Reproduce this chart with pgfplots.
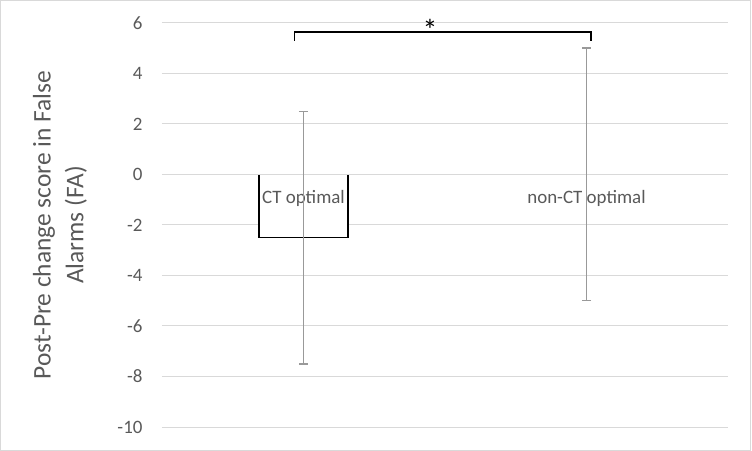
\documentclass[border=0pt]{standalone}
\usepackage{pgfplots}
\pgfplotsset{compat=1.18}
\usepackage{fontspec}
\setmainfont{Carlito}
\definecolor{txt}{HTML}{595959}
\definecolor{grd}{HTML}{D9D9D9}
\definecolor{err}{HTML}{999999}
\begin{document}
\begin{tikzpicture}
\begin{axis}[
  name=ax,
  scale only axis,
  width=566bp, height=404bp,
  xmin=-0.5, xmax=1.5,
  ymin=-10, ymax=6,
  xtick=\empty,
  ytick={-10,-8,-6,-4,-2,0,2,4,6},
  yticklabels={-10,-8,-6,-4,-2,0,2,4,6},
  ymajorgrids,
  grid style={grd, line width=1bp},
  axis line style={draw=none},
  major tick length=0pt,
  tick style={draw=none},
  yticklabel style={font=\fontsize{19}{22}\selectfont, text=txt, anchor=east, xshift=-16bp},
  ylabel={Post-Pre change score in False\\Alarms (FA)},
  every axis y label/.style={at={(axis description cs:0,0.5)}, xshift=-102bp, rotate=90, anchor=center, align=center, font=\fontsize{25.5}{33}\selectfont, text=txt},
  clip=false,
]
\addplot[ybar, bar width=0.316, fill=white, draw=black, line width=1.5bp] coordinates {(0,-2.5)};
\addplot[grd, line width=1bp] coordinates {(-0.5,0) (1.5,0)};
\node[text=txt, font=\fontsize{19}{22}\selectfont] at (axis cs:0,-0.95) {CT optimal};
\node[text=txt, font=\fontsize{19}{22}\selectfont] at (axis cs:1,-0.95) {non-CT optimal};
\addplot[draw=none, error bars/.cd, y dir=both, y explicit,
  error bar style={draw=err, line width=1.5bp},
  error mark options={rotate=90, mark size=4.5bp, draw=err, line width=1.5bp}]
  coordinates {(0,-2.5) +- (0,5) (1,0) +- (0,5)};
\addplot[black, line width=1.5bp] coordinates {(-0.032,5.3) (-0.032,5.65) (1.016,5.65) (1.016,5.3)};
\node[font=\fontsize{30}{34}\selectfont] at (axis cs:0.447,5.72) {*};
\end{axis}
\pgfresetboundingbox
\draw[grd, line width=1bp] ([xshift=-161.5bp,yshift=-23.5bp]ax.south west) rectangle ([xshift=22.5bp,yshift=22.5bp]ax.north east);
\useasboundingbox ([xshift=-162bp,yshift=-24bp]ax.south west) rectangle ([xshift=24bp,yshift=23bp]ax.north east);
\end{tikzpicture}
\end{document}
